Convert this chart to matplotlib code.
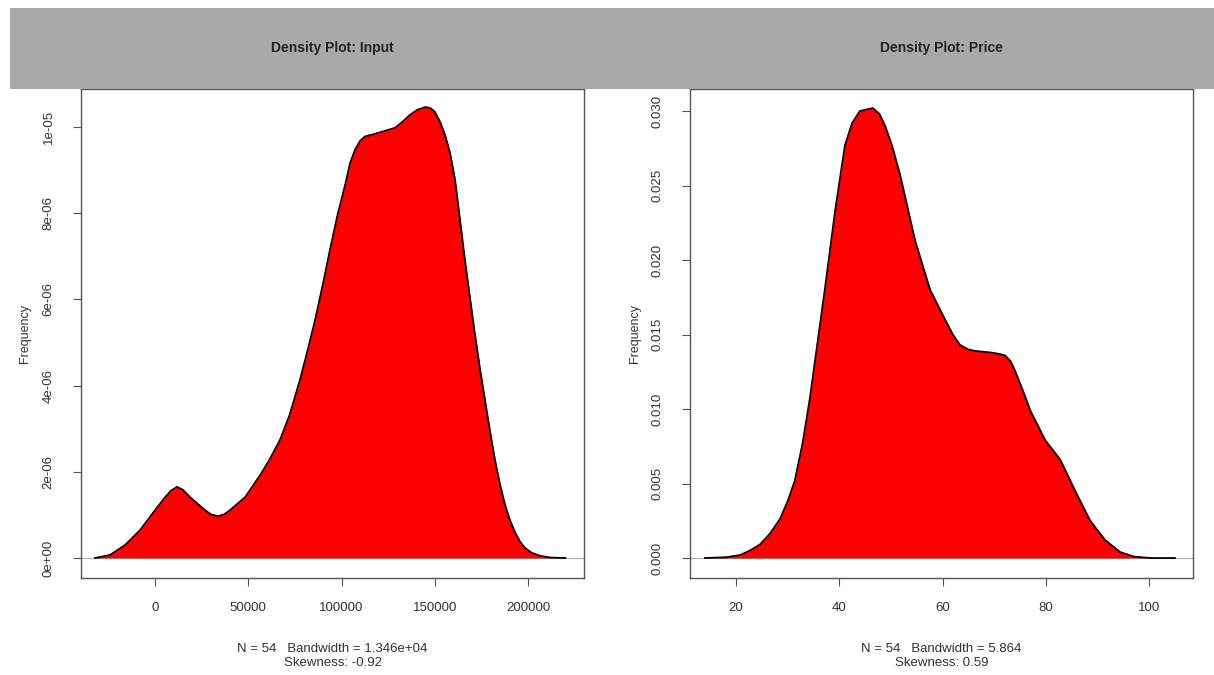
import numpy as np
import matplotlib
matplotlib.use('Agg')
import matplotlib.pyplot as plt
from matplotlib.patches import Rectangle

plt.rcParams['font.family'] = ['Liberation Sans', 'DejaVu Sans']

# density curve: Input
input_x = [-32200, -24100, -16100, -8000, 0, 5400, 8500, 11800, 15000, 18800,
           26800, 30000, 33800, 37000, 40200, 48300, 56300, 61000, 67000, 72000,
           77700, 82000, 85800, 90000, 93800, 97800, 101900, 104500, 107200, 110000,
           112600, 118000, 123300, 128700, 132700, 136700, 140800, 144800, 147500,
           150100, 153000, 155500, 158200, 160900, 163500, 166200, 169000, 171600,
           174200, 176900, 179600, 182300, 185000, 187700, 190300, 193000, 195700,
           198400, 202000, 206400, 212000, 220000]
input_y = [0.0, 0.07, 0.30, 0.65, 1.11, 1.41, 1.56, 1.65, 1.58, 1.41,
           1.11, 1.01, 0.97, 1.01, 1.11, 1.41, 1.92, 2.25, 2.74, 3.30,
           4.13, 4.85, 5.52, 6.35, 7.15, 7.95, 8.65, 9.15, 9.47, 9.68,
           9.78, 9.84, 9.91, 9.98, 10.12, 10.28, 10.40, 10.46, 10.44,
           10.35, 10.10, 9.81, 9.40, 8.77, 7.85, 6.90, 6.00, 5.17,
           4.40, 3.67, 2.95, 2.27, 1.70, 1.23, 0.88, 0.60, 0.38,
           0.23, 0.12, 0.05, 0.01, 0.0]
input_y = [v * 1e-6 for v in input_y]

# density curve: Price
price_x = [14.0, 18.0, 20.8, 22.7, 24.6, 26.5, 28.5, 30.0, 31.4, 32.9, 34.3,
           37.2, 39.2, 41.1, 42.5, 44.0, 46.5, 47.8, 48.9, 50.3, 51.8, 54.7,
           57.6, 60.5, 62.0, 63.4, 65.0, 66.3, 69.2, 71.0, 72.1, 73.2, 74.0,
           75.5, 77.0, 79.9, 82.8, 85.7, 88.6, 91.5, 94.4, 97.0, 100.2, 105.0]
price_y = [0.0, 0.00005, 0.0002, 0.0005, 0.0009, 0.0016, 0.0026, 0.0038, 0.0052,
           0.0077, 0.0107, 0.0180, 0.0233, 0.0277, 0.0292, 0.0300, 0.0302, 0.0298,
           0.0290, 0.0276, 0.0257, 0.0213, 0.0180, 0.0160, 0.0150, 0.0143, 0.0140,
           0.0139, 0.0138, 0.0137, 0.0136, 0.0132, 0.0126, 0.0113, 0.0099, 0.0079,
           0.0066, 0.0045, 0.0025, 0.0012, 0.0004, 0.0001, 0.0, 0.0]

input_xticks = [0, 50000, 100000, 150000, 200000]
input_yticks = [0, 2e-6, 4e-6, 6e-6, 8e-6, 1e-5]
input_yticklabels = ['0e+00', '2e-06', '4e-06', '6e-06', '8e-06', '1e-05']
price_xticks = [20, 40, 60, 80, 100]
price_yticks = [0, 0.005, 0.010, 0.015, 0.020, 0.025, 0.030]
price_yticklabels = ['0.000', '0.005', '0.010', '0.015', '0.020', '0.025', '0.030']

titles = ['Density Plot: Input', 'Density Plot: Price']
notes = ['N = 54   Bandwidth = 1.346e+04\nSkewness: -0.92',
         'N = 54   Bandwidth = 5.864\nSkewness: 0.59']

W, H = 1214, 675
fig = plt.figure(figsize=(W / 100, H / 100), dpi=100)
fig.patch.set_facecolor('white')

# grey title band
fig.patches.append(Rectangle((10 / W, 1 - 89 / H), 1, 81 / H, transform=fig.transFigure,
                             facecolor='#a9a9a9', edgecolor='none', zorder=0))

ax1 = fig.add_axes([81 / W, 1 - 578 / H, 503 / W, 489 / H])
ax2 = fig.add_axes([690 / W, 1 - 578 / H, 503 / W, 489 / H])


def draw_density(ax, x, y, xlim, ylim, xticks, yticks, yticklabels, title, note):
    ax.axhline(0, color='#b0b0b0', lw=0.8, zorder=1)
    ax.fill_between(x, y, 0, color='#ff0000', lw=0, zorder=2)
    ax.plot(x, y, color='black', lw=1.3, zorder=3, solid_joinstyle='round')
    ax.set_xlim(*xlim)
    ax.set_ylim(*ylim)
    ax.set_xticks(xticks)
    ax.set_xticklabels([str(t) for t in xticks])
    ax.set_yticks(yticks)
    ax.set_yticklabels(yticklabels, rotation=90, va='center')
    ax.tick_params(axis='both', length=6, width=0.8, color='#555555',
                   labelcolor='#333333', labelsize=9.5)
    ax.tick_params(axis='x', pad=11)
    ax.tick_params(axis='y', pad=13)
    for s in ax.spines.values():
        s.set_color('#555555')
        s.set_linewidth(1.0)
    ax.set_ylabel('Frequency', fontsize=9, color='#333333', labelpad=8)
    ax.set_xlabel(note, fontsize=9.5, color='#333333', labelpad=21, linespacing=1.25)
    bb = ax.get_position()
    fig.text(bb.x0 + bb.width / 2, 1 - 48 / H, title, ha='center', va='center',
             fontsize=10, fontweight='bold', color='#222222')


draw_density(ax1, input_x, input_y, (-39700, 230000), (-4.64e-7, 1.088e-5),
             input_xticks, input_yticks, input_yticklabels, titles[0], notes[0])
draw_density(ax2, price_x, price_y, (11.1, 108.5), (-0.00134, 0.03148),
             price_xticks, price_yticks, price_yticklabels, titles[1], notes[1])

fig.savefig('out.png', dpi=100)
